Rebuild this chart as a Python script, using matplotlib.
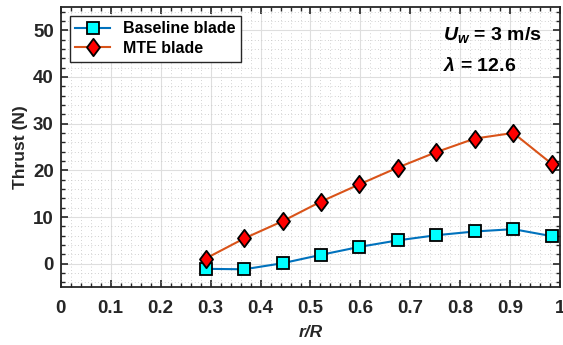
import numpy as np
import matplotlib.pyplot as plt
from matplotlib.ticker import MultipleLocator
from matplotlib.path import Path

r_R = [0.290, 0.367, 0.444, 0.521, 0.598, 0.675, 0.752, 0.829, 0.906, 0.983]
thrust_baseline = [-1.1, -1.2, 0.1, 1.9, 3.6, 5.0, 6.1, 6.9, 7.4, 5.9]
thrust_mte = [1.1, 5.4, 9.1, 13.3, 17.0, 20.6, 23.9, 26.8, 28.0, 21.4]
xtick_labels = ['0', '0.1', '0.2', '0.3', '0.4', '0.5', '0.6', '0.7', '0.8', '0.9', '1']

plt.rcParams['font.family'] = ['Liberation Sans', 'DejaVu Sans']
plt.rcParams['font.weight'] = 'bold'
plt.rcParams['mathtext.fontset'] = 'custom'
plt.rcParams['mathtext.rm'] = 'Liberation Sans:bold'
plt.rcParams['mathtext.it'] = 'Liberation Sans:italic:bold'
plt.rcParams['mathtext.bf'] = 'Liberation Sans:bold'

# matlab style diamond, a bit taller than wide
diamond = Path([(0, 1), (0.75, 0), (0, -1), (-0.75, 0), (0, 1)],
               [Path.MOVETO, Path.LINETO, Path.LINETO, Path.LINETO, Path.CLOSEPOLY])

fig = plt.figure(figsize=(5.63, 3.45), dpi=100)
ax = fig.add_axes([0.108, 0.168, 0.887, 0.812])

ax.plot(r_R, thrust_baseline, '-', marker='s', color='#0072BD', lw=1.5,
        mfc='#00FFFF', mec='black', mew=1.3, ms=8, label='Baseline blade')
ax.plot(r_R, thrust_mte, '-', marker=diamond, color='#D95319', lw=1.5,
        mfc='#FF0000', mec='black', mew=1.3, ms=12.5, label='MTE blade')

ax.set_xlim(0, 1)
ax.set_ylim(-5, 55)
ax.xaxis.set_minor_locator(MultipleLocator(0.02))
ax.yaxis.set_major_locator(MultipleLocator(10))
ax.yaxis.set_minor_locator(MultipleLocator(2))
ax.set_xticks(np.arange(0, 1.01, 0.1))
ax.set_xticklabels(xtick_labels)

ax.grid(which='major', color='#dedede', lw=0.8, ls='-')
ax.grid(which='minor', color='#c4c4c4', lw=0.6, ls=(0, (1, 3)))
ax.set_axisbelow(True)

ax.tick_params(which='both', direction='in', top=True, right=True,
               colors='#262626', labelsize=13.5)
ax.tick_params(which='major', length=5, width=1.2)
ax.tick_params(which='minor', length=3, width=1.0)
ax.tick_params(axis='x', which='major', pad=9)
ax.tick_params(axis='y', which='major', pad=5)
for s in ax.spines.values():
    s.set_color('#262626')
    s.set_linewidth(1.3)

ax.set_xlabel('r/R', fontsize=12.5, fontstyle='italic', fontweight='bold',
              color='#262626', labelpad=6)
ax.set_ylabel('Thrust (N)', fontsize=12.5, fontweight='bold', color='#262626', labelpad=4)

leg = ax.legend(loc='upper left', fontsize=11.5, frameon=True, fancybox=False,
                edgecolor='#262626', framealpha=1, borderpad=0.35,
                handlelength=2.2, labelspacing=0.3, borderaxespad=0.55)
leg.get_frame().set_linewidth(1.0)

ax.text(0.765, 0.90, r'$U_w$ = 3 m/s', transform=ax.transAxes,
        fontsize=14, fontweight='bold', color='black', va='center')
ax.text(0.765, 0.79, r'$\lambda$ = 12.6', transform=ax.transAxes,
        fontsize=14, fontweight='bold', color='black', va='center')

fig.savefig('out.png', dpi=100)
